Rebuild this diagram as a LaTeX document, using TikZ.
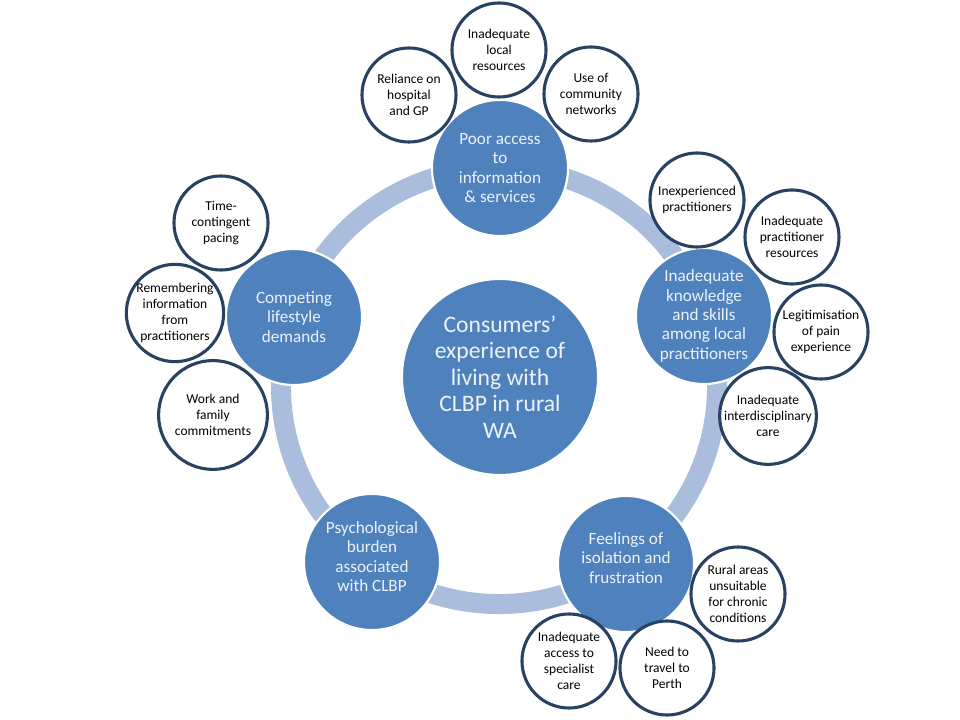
\documentclass[tikz,border=0pt]{standalone}
\usepackage{fontspec}
\setmainfont{Carlito}
\usepackage{xcolor}
\usepackage{tikz}
\usetikzlibrary{positioning}
\definecolor{themeblue}{RGB}{79,129,189}
\definecolor{ringblue}{RGB}{170,189,221}
\definecolor{rimblue}{RGB}{41,66,98}
\definecolor{themetext}{RGB}{236,242,250}
\tikzstyle{core}  = [circle, fill=themeblue, draw=white, line width=1.5pt,
                     minimum size=4.9cm, inner sep=0pt, align=center,
                     text=themetext, font=\fontsize{16.8}{18.8}\selectfont]
\tikzstyle{theme} = [core, minimum size=3.4cm,
                     font=\fontsize{12.2}{13.8}\selectfont]
\tikzstyle{leaf}  = [circle, fill=white, draw=rimblue, line width=2.2pt,
                     minimum size=2.35cm, inner sep=0pt, align=center,
                     text=black, font=\fontsize{9.6}{11.4}\selectfont]
\tikzstyle{bigleaf} = [leaf, minimum size=2.72cm]
\tikzstyle{ring}  = [draw=ringblue, line width=0.5cm]

\begin{document}
\begin{tikzpicture}[x=0.025cm, y=-0.025cm]
  \useasboundingbox (0,0) rectangle (960,720);

  % Ring
  \coordinate (hub) at (499,386);
  \draw[ring] (hub) circle [radius=5.45cm];

  % Centre and themes
  \node[core]  (cons) at (500,377) {Consumers’\\experience of\\living with\\CLBP in rural\\WA};
  \node[theme] (acc)  at (500,168) {Poor access\\to\\information\\\& services};
  \node[theme] (know) at (704,316) {Inadequate\\knowledge\\and skills\\among local\\practitioners};
  \node[theme] (iso)  at (626,564) {Feelings of\\isolation and\\frustration\\[-5pt]};
  \node[theme] (psy)  at (372,562) {Psychological\\burden\\associated\\with CLBP\\[-6pt]};
  \node[theme] (life) at (294,317) {Competing\\lifestyle\\demands};

  % Sub-themes: access
  \node[leaf] (hosp) at (409,95)  {Reliance on\\hospital\\and GP};
  \node[leaf] (locr) at (499,50)  {Inadequate\\local\\resources};
  \node[leaf] (comm) at (591,94)  {Use of\\community\\networks};

  % Sub-themes: knowledge
  \node[leaf] (inex) at (697,200) {Inexperienced\\practitioners};
  \node[leaf] (pres) at (792,237) {Inadequate\\practitioner\\resources};
  \node[leaf] (legi) at (821,332) {Legitimisation\\of pain\\experience};
  \node[leaf] (inter) at (768,416) {Inadequate\\interdisciplinary\\care};

  % Sub-themes: isolation
  \node[leaf] (rural) at (738,594) {Rural areas\\unsuitable\\for chronic\\conditions};
  \node[leaf] (perth) at (667,668) {Need to\\travel to\\Perth};
  \node[leaf] (spec)  at (569,661) {Inadequate\\access to\\specialist\\care};

  % Sub-themes: lifestyle
  \node[leaf]    (pace) at (221,223) {Time-\\contingent\\pacing};
  \node[leaf]    (memo) at (175,313) {Remembering\\information\\from\\practitioners};
  \node[bigleaf] (work) at (213,415) {Work and\\family\\commitments};
\end{tikzpicture}
\end{document}
